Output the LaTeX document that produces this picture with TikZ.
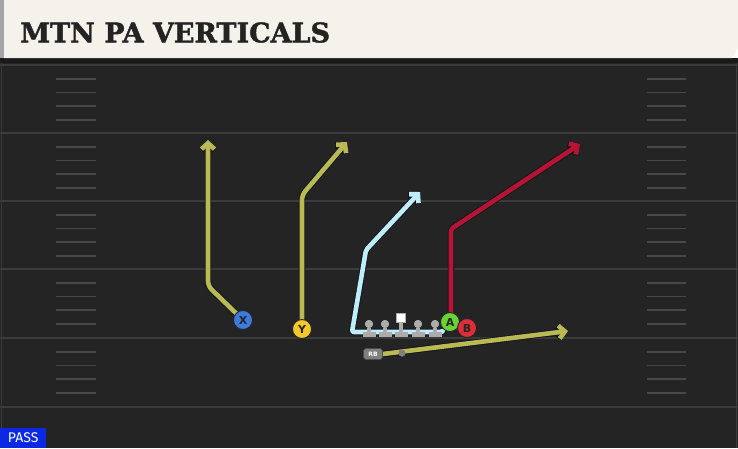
\documentclass[tikz,border=0pt]{standalone}
\usepackage{fontspec}
\setsansfont{DejaVu Sans}
\newfontfamily\titlefont{DejaVu Serif Bold}[FakeBold=1.6]
\newfontfamily\passfont{Fira Sans}
\usepackage{tikz}
\usetikzlibrary{arrows.meta,calc}
\definecolor{fieldgray}{RGB}{36,36,36}
\definecolor{bandgray}{RGB}{26,26,26}
\definecolor{yardgray}{RGB}{60,60,60}
\definecolor{hashgray}{RGB}{72,72,72}
\definecolor{cream}{RGB}{245,242,235}
\definecolor{edgegray}{RGB}{165,165,165}
\definecolor{titleblack}{RGB}{35,35,35}
\definecolor{olive}{RGB}{186,186,84}
\definecolor{iceblue}{RGB}{192,238,248}
\definecolor{crimson}{RGB}{182,20,52}
\definecolor{routeedge}{RGB}{20,20,30}
\definecolor{xblue}{RGB}{62,122,222}
\definecolor{yyellow}{RGB}{242,200,42}
\definecolor{agreen}{RGB}{104,212,52}
\definecolor{bred}{RGB}{222,44,58}
\definecolor{lmgray}{RGB}{172,172,172}
\definecolor{rbgray}{RGB}{128,128,128}
\definecolor{passblue}{RGB}{12,40,228}
\tikzset{
>={Straight Barb[length=6pt,width=13pt]},
  player/.style={
    circle,
    draw=black!85, line width=.9pt,
    minimum size=19pt,
    inner sep=0pt,
    font=\sffamily\bfseries\fontsize{11}{11}\selectfont,
    text=black!85},
  lineman/.style={circle, fill=lmgray, minimum size=8pt, inner sep=0pt},
  snapper/.style={rectangle, fill=white, draw=lmgray, line width=.6pt,
    minimum size=9pt, inner sep=0pt},
  rbbox/.style={rectangle, rounded corners=3pt, fill=rbgray, draw=black!70,
    line width=.6pt, minimum width=19pt, minimum height=11pt, inner sep=0pt,
    text=white, font=\sffamily\bfseries\fontsize{6}{6}\selectfont},
  qbdot/.style={circle, fill=rbgray, minimum size=7pt, inner sep=0pt},
  route/.style={->, line width=4.6pt, line join=round, rounded corners=5pt,
    preaction={draw=routeedge, line width=6.4pt}},
  yardline/.style={draw=yardgray, line width=1.6pt},
  hashmark/.style={draw=hashgray, line width=1.5pt},
}
\begin{document}
\begin{tikzpicture}[x=1pt,y=-1pt]
  \useasboundingbox (0,0) rectangle (738,448);
  % field and header
  \fill[fieldgray] (0,58) rectangle (738,448);
  \fill[bandgray] (0,58) rectangle (738,63);
  \fill[cream] (4,0) -- (738,0) -- (738,48) -- (732,58) -- (4,58) -- cycle;
  \fill[edgegray] (0,0) rectangle (4,58);
  \draw[yardgray, line width=1pt] (1.5,63) -- (1.5,448) (736.5,63) -- (736.5,448);
  \node (title) [anchor=west, inner sep=0pt, text=titleblack,
    font=\titlefont\fontsize{27}{27}\selectfont] at (20,32.5) {MTN PA VERTICALS};
  \foreach \y in {65,133,201,269,338,407}
    \draw[yardline] (0,\y) -- (738,\y);
  \foreach \y in {65,133,201,269,338}
    \foreach \d in {14,27.5,41,55}{
      \draw[hashmark] (56,\y+\d) -- (96,\y+\d);
      \draw[hashmark] (647,\y+\d) -- (686,\y+\d);
    }
  % players
  \node (X) [player, fill=xblue] at (243,320) {X};
  \node (Y) [player, fill=yyellow] at (302,329) {Y};
  \node (A) [player, fill=agreen] at (450,322) {A};
  \node (B) [player, fill=bred] at (467,328) {B};
  \node (rb) [rbbox] at (373,354) {RB};
  \node (qb) [qbdot] at (402,353) {};
  \node (lt) [lineman] at (369,324) {};
  \node (lg) [lineman] at (385,324) {};
  \node (c) [snapper] at (401,318) {};
  \node (rg) [lineman] at (418,324) {};
  \node (rt) [lineman] at (435,324) {};
  \coordinate (bar) at (0,334);
  % route breaks and ends
  \coordinate (xbrk) at (208,286);
  \coordinate (xend) at (208,140);
  \coordinate (ybrk) at (302,195);
  \coordinate (yend) at (347,142);
  \coordinate (abase) at (352,332);
  \coordinate (abrk) at (366,250);
  \coordinate (aend) at (420,192);
  \coordinate (bbrk) at (451,229);
  \coordinate (bend) at (580,144);
  \coordinate (rbend) at (568,331);
  \draw[route, olive] (X.center) -- (xbrk) -- (xend);
  \draw[route, olive] (Y.center) -- (ybrk) -- (yend);
  \draw[route, iceblue, rounded corners=2pt] (A.south west) |- (abase) -- (abrk) -- (aend);
  \draw[route, crimson, rounded corners=2pt] (B.center) -| (bbrk) -- (bend);
  \draw[route, olive, rounded corners=0pt] (rb.east) -- (rbend);
  % redraw marks on top of the routes
  \foreach \n in {lt,lg,c,rg,rt}{
    \fill[lmgray] ($(\n.south)+(-1.8,0)$) rectangle ($(\n.south |- bar)+(1.8,0)$);
    \fill[lmgray] ($(\n.south |- bar)+(-6.5,-2.5)$) rectangle ($(\n.south |- bar)+(6.5,2.5)$);
    \node[lineman] at (\n) {};
  }
  \node[snapper] at (c) {};
  \node[player, fill=xblue] at (X) {X};
  \node[player, fill=yyellow] at (Y) {Y};
  \node[player, fill=agreen] at (A) {A};
  \node[player, fill=bred] at (B) {B};
  \node[rbbox] at (rb) {RB};
  \node[qbdot] at (qb) {};
  \node (pass) [fill=passblue, text=white, anchor=south west, inner sep=0pt,
    minimum width=46pt, minimum height=20pt,
    font=\passfont\fontsize{14}{14}\selectfont] at (0,448) {PASS};
\end{tikzpicture}
\end{document}
